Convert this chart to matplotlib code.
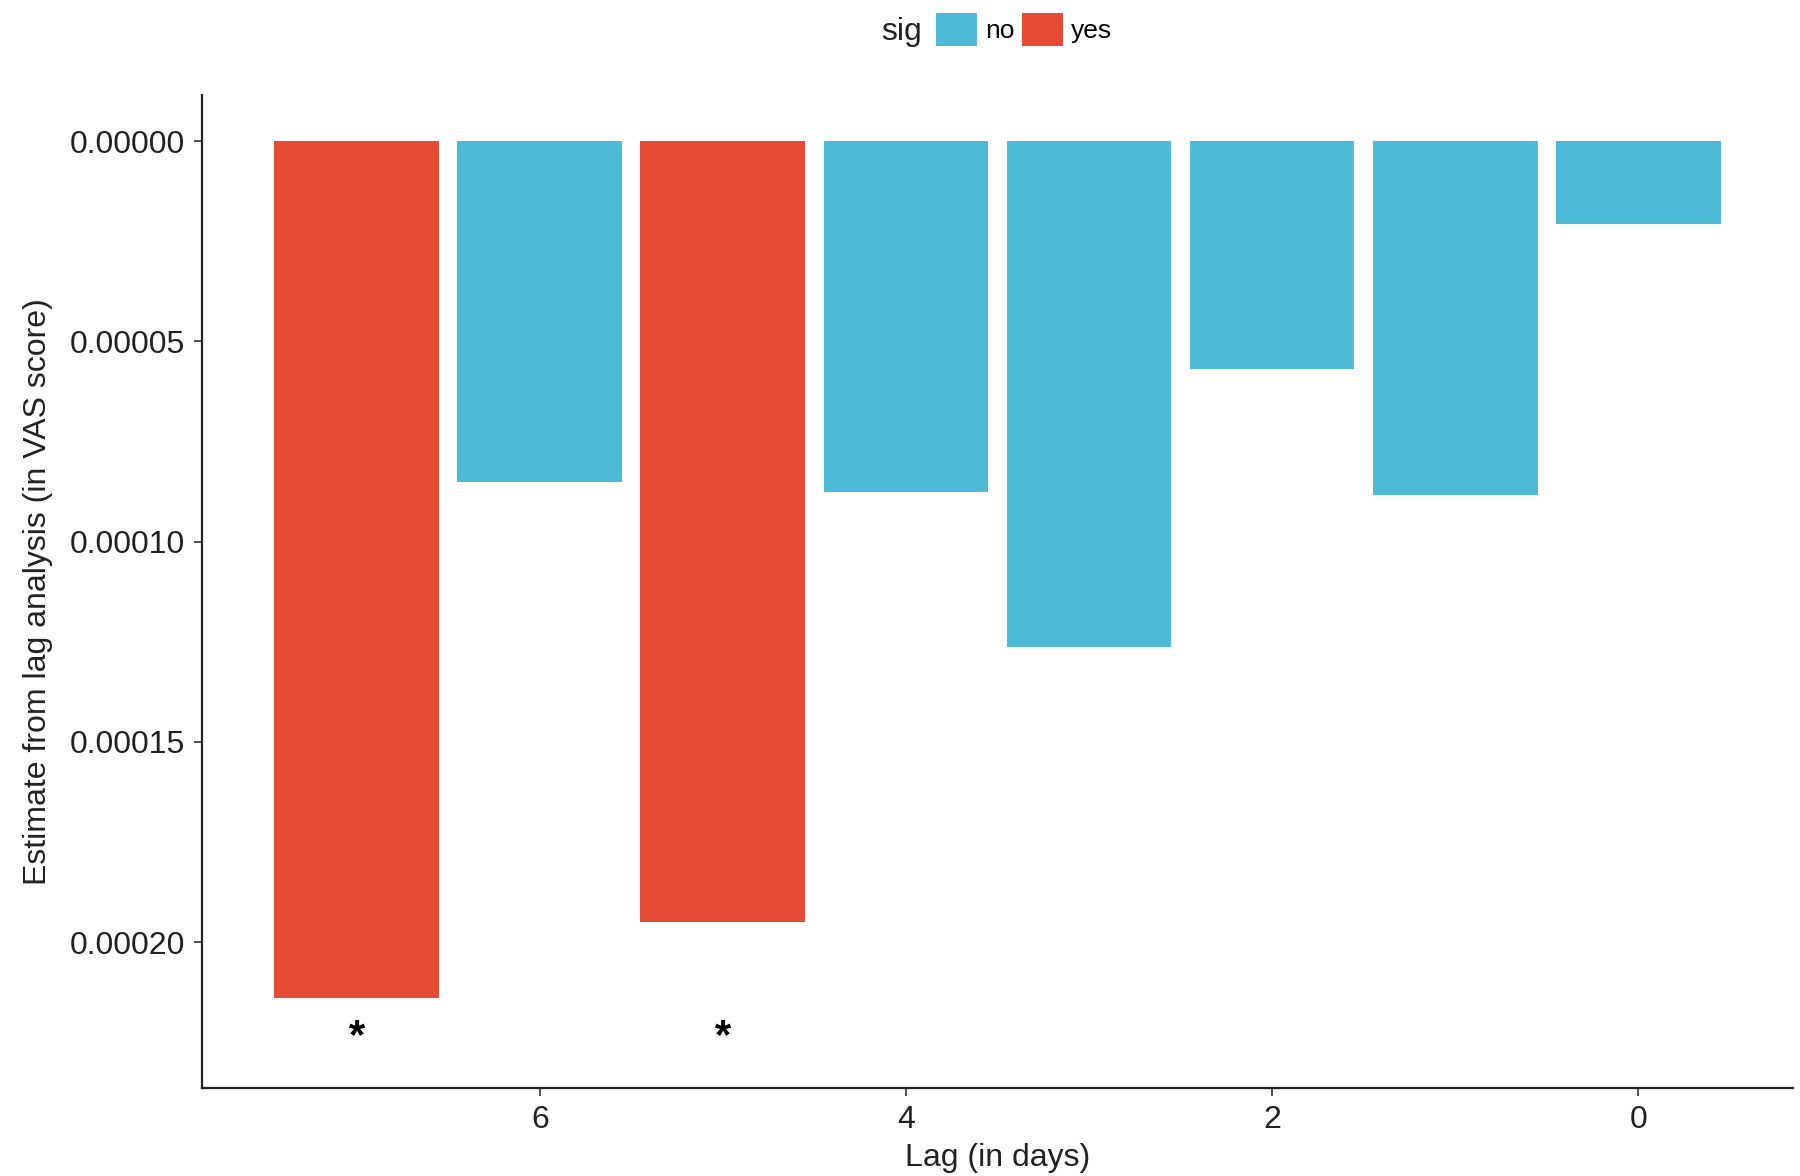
import matplotlib
matplotlib.use("Agg")
import matplotlib.pyplot as plt
from matplotlib.patches import Patch

plt.rcParams["font.family"] = ["Liberation Sans", "DejaVu Sans"]

# lag (days), estimate and significance flag
lags = [7, 6, 5, 4, 3, 2, 1, 0]
estimates = [0.0002140, 0.0000852, 0.0001950, 0.0000875, 0.0001262, 0.0000569, 0.0000883, 0.0000208]
sig = ["yes", "no", "yes", "no", "no", "no", "no", "no"]
star_lags = [7, 5]
star_y = 0.0002238

colors = {"no": "#4DBBD5", "yes": "#E64B35"}

fig = plt.figure(figsize=(18, 11.76), dpi=100)
ax = fig.add_axes([0.1122, 0.0745, 0.9961 - 0.1122, 0.9192 - 0.0745])

ax.bar(lags, estimates, width=0.9, color=[colors[s] for s in sig], linewidth=0)
for lag in star_lags:
    ax.text(lag, star_y, "*", ha="center", va="center", fontsize=30, fontweight="bold")

ax.set_xlim(7.845, -0.845)
ax.set_ylim(0.0002365, -0.0000115)
ax.set_xticks([6, 4, 2, 0])
ax.set_yticks([0, 0.00005, 0.0001, 0.00015, 0.0002])
ax.set_yticklabels(["0.00000", "0.00005", "0.00010", "0.00015", "0.00020"])

for side in ["top", "right"]:
    ax.spines[side].set_visible(False)
for side in ["left", "bottom"]:
    ax.spines[side].set_linewidth(1.6)
    ax.spines[side].set_color("#222222")

ax.tick_params(axis="both", labelsize=23, length=6, width=1.2, color="#333333",
               labelcolor="#222222", pad=6)
ax.set_xlabel("Lag (in days)", fontsize=23, color="#222222", labelpad=6)
ax.set_ylabel("Estimate from lag analysis (in VAS score)", fontsize=23, color="#222222", labelpad=12)

handles = [Patch(facecolor=colors["no"], label="no"), Patch(facecolor=colors["yes"], label="yes")]
fig.legend(handles=handles, loc="center", bbox_to_anchor=(0.569, 0.975), ncol=2, frameon=False,
           fontsize=19, handlelength=1.55, handleheight=1.55, handletextpad=0.3,
           columnspacing=0.3, borderpad=0)
fig.text(0.512, 0.973, "sig", ha="right", va="center", fontsize=23, color="#222222")

fig.savefig("out.png", dpi=100, facecolor="white")
